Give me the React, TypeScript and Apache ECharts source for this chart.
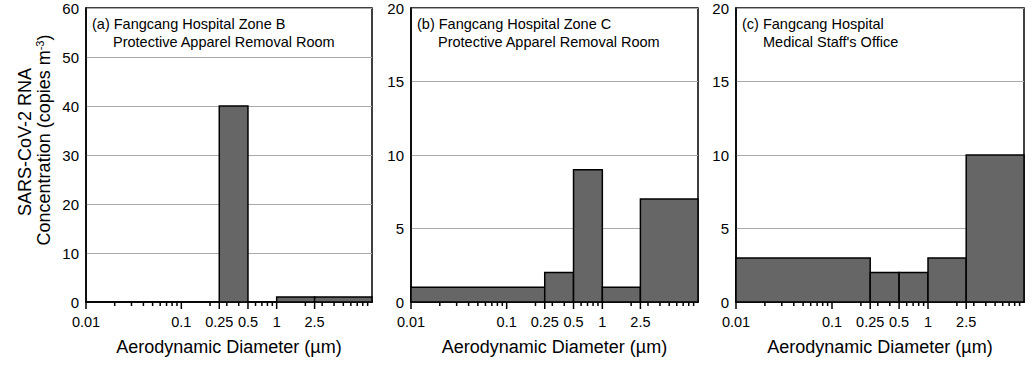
import React, { useEffect, useRef } from "react";
import * as echarts from "echarts";

// Bin edges (µm) shared by all three panels
const binEdges = [0.01, 0.25, 0.5, 1, 2.5, 10];
// Concentrations (copies m^-3) per bin
const valuesA = [0, 40, 0, 1, 1];
const valuesB = [1, 2, 9, 1, 7];
const valuesC = [3, 2, 2, 3, 10];

const majorTicks = [0.01, 0.1, 0.25, 0.5, 1, 2.5];
const tickLabels = ["0.01", "0.1", "0.25", "0.5", "1", "2.5"];
const minorTicks = [
  0.02, 0.03, 0.04, 0.05, 0.06, 0.07, 0.08, 0.09,
  0.2, 0.3, 0.4, 0.6, 0.7, 0.8, 0.9,
  2, 3, 4, 5, 6, 7, 8, 9,
];

const panelLine1 = [
  "(a) Fangcang Hospital Zone B",
  "(b) Fangcang Hospital Zone C",
  "(c) Fangcang Hospital",
];
const panelLine2 = [
  "Protective Apparel Removal Room",
  "Protective Apparel Removal Room",
  "Medical Staff's Office",
];
const yMaxes = [60, 20, 20];
const yIntervals = [10, 5, 5];
const xTitle = "Aerodynamic Diameter (µm)";
const yTitle1 = "SARS-CoV-2 RNA";
const yTitle2 = "Concentration (copies m{sup|-3})";

const FONT = "'Liberation Sans', Arial, sans-serif";

const grids = [
  { left: 86, top: 8, width: 286, height: 294 },
  { left: 411, top: 8, width: 287, height: 294 },
  { left: 736, top: 8, width: 288, height: 294 },
];

function fmtTick(v: number): string {
  for (let i = 0; i < majorTicks.length; i++) {
    if (Math.abs(v - majorTicks[i]) < majorTicks[i] * 1e-6) return tickLabels[i];
  }
  const p = Math.pow(10, v);
  for (let i = 0; i < majorTicks.length; i++) {
    if (Math.abs(p - majorTicks[i]) < majorTicks[i] * 1e-6) return tickLabels[i];
  }
  return "";
}

function tickSeries(gridIdx: number, values: number[], len: number) {
  return {
    type: "custom",
    xAxisIndex: gridIdx,
    yAxisIndex: gridIdx,
    encode: { x: 0 },
    data: values.map((t) => [t]),
    clip: false,
    silent: true,
    z: 8,
    renderItem: (params: any, api: any) => {
      const p = api.coord([api.value(0), 0]);
      return {
        type: "line",
        shape: { x1: p[0], y1: p[1], x2: p[0], y2: p[1] + len },
        style: { stroke: "#000", lineWidth: 1.5 },
      };
    },
  };
}

export default function App() {
  const ref = useRef<HTMLDivElement>(null);
  useEffect(() => {
    if (!ref.current) return;
    const chart = echarts.init(ref.current, undefined, { renderer: "svg" });
    const allValues = [valuesA, valuesB, valuesC];

    const xAxes: any[] = [];
    const yAxes: any[] = [];
    const series: any[] = [];
    const graphics: any[] = [];

    grids.forEach((g, i) => {
      xAxes.push({
        type: "log",
        logBase: 10,
        gridIndex: i,
        min: 0.01,
        max: 10,
        position: "bottom",
        name: xTitle,
        nameLocation: "middle",
        nameGap: 36,
        nameTextStyle: { fontFamily: FONT, fontSize: 18, color: "#000" },
        axisLine: { show: true, lineStyle: { color: "#000", width: 1.5 } },
        axisTick: { show: false },
        axisLabel: {
          show: true,
          customValues: majorTicks,
          margin: 12,
          fontFamily: FONT,
          fontSize: 14.5,
          color: "#000",
          formatter: (v: number) => fmtTick(v),
        },
        splitLine: { show: false },
        minorTick: { show: false },
      });
      yAxes.push({
        type: "value",
        gridIndex: i,
        min: 0,
        max: yMaxes[i],
        interval: yIntervals[i],
        axisLine: { show: true, lineStyle: { color: "#000", width: 1.5 } },
        axisTick: { show: false },
        axisLabel: { margin: 7, fontFamily: FONT, fontSize: 15, color: "#000" },
        splitLine: { show: true, lineStyle: { color: "#aaaaaa", width: 1 } },
      });
      const data = allValues[i].map((v, k) => [binEdges[k], binEdges[k + 1], v]);
      series.push({
        type: "custom",
        xAxisIndex: i,
        yAxisIndex: i,
        encode: { x: [0, 1], y: 2 },
        data,
        z: 5,
        renderItem: (params: any, api: any) => {
          const x0 = api.value(0);
          const x1 = api.value(1);
          const v = api.value(2);
          const p0 = api.coord([x0, v]);
          const p1 = api.coord([x1, 0]);
          return {
            type: "rect",
            shape: { x: p0[0], y: p0[1], width: p1[0] - p0[0], height: p1[1] - p0[1] },
            style: { fill: "#666666", stroke: "#000", lineWidth: 1.5 },
          };
        },
      });
      series.push(tickSeries(i, majorTicks, 7));
      series.push(tickSeries(i, minorTicks, 4));
      graphics.push({
        type: "text",
        left: g.left + 6,
        top: 16,
        style: { text: panelLine1[i], fontFamily: FONT, fontSize: 14.5, fill: "#000" },
      });
      graphics.push({
        type: "text",
        left: g.left + 27,
        top: 34,
        style: { text: panelLine2[i], fontFamily: FONT, fontSize: 14.5, fill: "#000" },
      });
    });

    graphics.push({
      type: "text",
      x: 25,
      y: 142,
      rotation: Math.PI / 2,
      style: {
        text: yTitle1,
        fontFamily: FONT,
        fontSize: 18,
        fill: "#000",
        align: "center",
        verticalAlign: "middle",
      },
    });
    graphics.push({
      type: "text",
      x: 44,
      y: 140,
      rotation: Math.PI / 2,
      style: {
        text: yTitle2,
        fontFamily: FONT,
        fontSize: 18,
        fill: "#000",
        align: "center",
        verticalAlign: "middle",
        rich: {
          sup: { fontFamily: FONT, fontSize: 11, fill: "#000", verticalAlign: "top", padding: [0, 0, 8, 0] },
        },
      },
    });

    chart.setOption({
      animation: false,
      backgroundColor: "#fff",
      grid: grids.map((g) => ({
        ...g,
        show: true,
        borderColor: "#000",
        borderWidth: 1.5,
        backgroundColor: "transparent",
        containLabel: false,
      })),
      xAxis: xAxes,
      yAxis: yAxes,
      series,
      graphic: graphics,
    });
    return () => chart.dispose();
  }, []);
  return (
    <div
      ref={ref}
      style={{ position: "fixed", left: 0, top: 0, width: 1036, height: 372, background: "#fff" }}
    />
  );
}
